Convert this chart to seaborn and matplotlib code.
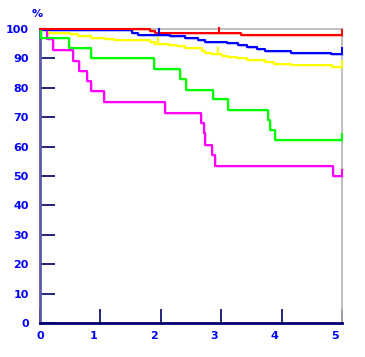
import matplotlib
matplotlib.use("Agg")
import matplotlib.pyplot as plt
import matplotlib.transforms as mtransforms
import numpy as np
import pandas as pd
import seaborn as sns

# survival curves (time in years, percent surviving), step functions
red_t = [0, 1.82, 1.91, 3.32, 5.0]
red_v = [100, 99.4, 98.5, 97.8, 97.8]

blue_t = [0, 0.05, 1.52, 1.63, 2.16, 2.40, 2.62, 2.74, 3.10, 3.27, 3.43, 3.60, 3.73, 4.15, 4.81, 5.0]
blue_v = [100, 99.6, 98.8, 98.1, 97.5, 96.9, 96.3, 95.7, 95.1, 94.5, 94.0, 93.3, 92.6, 92.0, 91.5, 91.5]

yellow_t = [0, 0.05, 0.10, 0.15, 0.49, 0.63, 0.85, 1.07, 1.23, 1.82, 1.91, 2.13, 2.27, 2.40,
            2.68, 2.74, 2.85, 3.01, 3.12, 3.26, 3.43, 3.73, 3.87, 4.15, 4.84, 5.0]
yellow_v = [100, 99.6, 99.2, 98.8, 98.3, 97.7, 96.9, 96.6, 96.4, 95.5, 94.9, 94.6, 94.1, 93.5,
            92.6, 91.8, 91.5, 90.9, 90.4, 90.0, 89.5, 88.7, 88.1, 87.8, 87.0, 87.0]

green_t = [0, 0.01, 0.48, 0.85, 1.89, 2.31, 2.41, 2.86, 3.12, 3.78, 3.81, 3.89, 5.0]
green_v = [100, 96.8, 93.4, 90.0, 86.3, 82.9, 79.3, 76.1, 72.4, 69.0, 65.6, 62.2, 62.2]

magenta_t = [0, 0.11, 0.22, 0.54, 0.65, 0.78, 0.85, 1.06, 2.07, 2.67, 2.71, 2.73, 2.84, 2.90, 4.85, 5.0]
magenta_v = [100, 96.6, 93.0, 89.2, 85.8, 82.2, 78.9, 75.3, 71.5, 68.1, 64.5, 60.5, 57.1, 53.5, 50.1, 50.1]

# censored observations (times)
red_cens = [2.97, 5.0]
blue_cens = [1.97, 5.0]
yellow_cens = [1.96, 2.95, 5.0]
green_cens = [5.0]
magenta_cens = [5.0]

x_ticks = [0, 1, 2, 3, 4, 5]
y_ticks = [0, 10, 20, 30, 40, 50, 60, 70, 80, 90, 100]

curves = {
    "yellow": (yellow_t, yellow_v, yellow_cens),
    "magenta": (magenta_t, magenta_v, magenta_cens),
    "green": (green_t, green_v, green_cens),
    "blue": (blue_t, blue_v, blue_cens),
    "red": (red_t, red_v, red_cens),
}
palette = {"yellow": "#ffff00", "magenta": "#ff00ff", "green": "#00ff00",
           "blue": "#0000ff", "red": "#ff0000"}

sns.set_style("white")
plt.rcParams['font.family'] = ['DejaVu Sans']

fig = plt.figure(figsize=(3.65, 3.57), dpi=100)
ax = fig.add_axes([40 / 365, 1 - 323 / 357, 302 / 365, 294 / 357])

df = pd.concat([pd.DataFrame({"t": t, "v": v, "group": name})
                for name, (t, v, c) in curves.items()], ignore_index=True)

# light shadow copy, offset by one pixel
shadow = mtransforms.offset_copy(ax.transData, fig=fig, x=1, y=-1, units='dots')
for name, (t, v, c) in curves.items():
    ax.plot(t, v, drawstyle='steps-post', color=palette[name], alpha=0.3,
            lw=1.2, transform=shadow, clip_on=False, zorder=2.8)

sns.lineplot(data=df, x="t", y="v", hue="group", palette=palette,
             drawstyle='steps-post', lw=1.5, legend=False, ax=ax,
             estimator=None, sort=False, clip_on=False, zorder=3)

# censor ticks
for name, (t, v, c) in curves.items():
    idx = np.searchsorted(t, c, side='right') - 1
    vals = np.array(v)[idx]
    ax.vlines(c, vals, vals + 2.3, color=palette[name], lw=1.5,
              clip_on=False, zorder=3.1)

ax.set_xlim(0, 5.0)
ax.set_ylim(0, 100)
ax.set_xticks(x_ticks)
ax.set_yticks(y_ticks)
ax.set_xticklabels([str(x) for x in x_ticks])
ax.set_yticklabels([str(y) for y in y_ticks])
ax.set_xlabel("")
ax.set_ylabel("")

ax.tick_params(axis='both', direction='in', colors='#000060', width=1.2,
               labelcolor='#0000ff', labelsize=8, bottom=True, left=True)
ax.tick_params(axis='x', length=10, pad=6)
ax.tick_params(axis='y', length=11, pad=8)
for lab in ax.get_xticklabels() + ax.get_yticklabels():
    lab.set_fontweight('bold')
shift = mtransforms.ScaledTranslation(-7 / 100, 0, fig.dpi_scale_trans)
for lab in ax.get_xticklabels()[1:]:
    lab.set_transform(lab.get_transform() + shift)

ax.spines['left'].set_color('#5a5aa8')
ax.spines['left'].set_linewidth(2)
ax.spines['bottom'].set_color('#000070')
ax.spines['bottom'].set_linewidth(2)
for s in ['top', 'right']:
    ax.spines[s].set_color('#b4b4b4')
    ax.spines[s].set_linewidth(1.2)

ax.text(-0.01, 1.05, "%", transform=ax.transAxes, color='#0000ff',
        fontsize=8, fontweight='bold', ha='center', va='center')

fig.savefig("out.png", dpi=100)
